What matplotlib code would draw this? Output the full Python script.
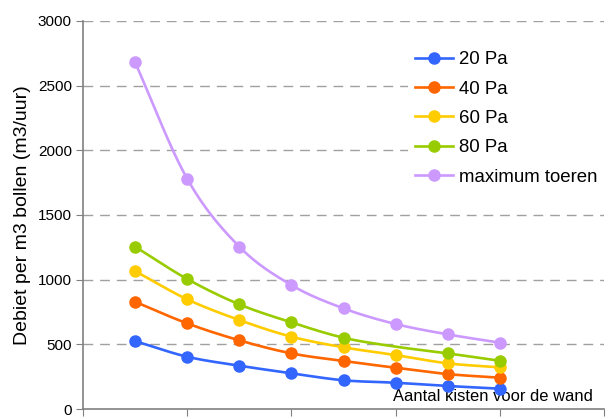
import numpy as np
import matplotlib
matplotlib.use("Agg")
import matplotlib.pyplot as plt

plt.rcParams["font.family"] = ["Liberation Sans", "DejaVu Sans"]

# number of boxes in front of the wall
kisten = [1, 2, 3, 4, 5, 6, 7, 8]

pa20 = [525, 404, 335, 276, 222, 203, 178, 157]
pa40 = [829, 662, 531, 430, 371, 319, 270, 242]
pa60 = [1066, 848, 688, 559, 477, 417, 353, 322]
pa80 = [1255, 1005, 809, 670, 551, 482, 430, 373]
maximum = [2680, 1780, 1255, 958, 778, 657, 577, 513]

labels = ["20 Pa", "40 Pa", "60 Pa", "80 Pa", "maximum toeren"]
colors = ["#3366FF", "#FF6600", "#FFCC00", "#99CC00", "#CC99FF"]


def smooth(x, y, n=20):
    """Catmull-Rom curve through the points, like Excel's smoothed line."""
    x = np.asarray(x, float)
    y = np.asarray(y, float)
    px = np.concatenate([[2 * x[0] - x[1]], x, [2 * x[-1] - x[-2]]])
    py = np.concatenate([[2 * y[0] - y[1]], y, [2 * y[-1] - y[-2]]])
    t = np.linspace(0, 1, n)[:, None]
    xs, ys = [], []
    for i in range(1, len(px) - 2):
        for p, out in ((px, xs), (py, ys)):
            p0, p1, p2, p3 = p[i - 1], p[i], p[i + 1], p[i + 2]
            seg = 0.5 * ((2 * p1) + (-p0 + p2) * t
                         + (2 * p0 - 5 * p1 + 4 * p2 - p3) * t ** 2
                         + (-p0 + 3 * p1 - 3 * p2 + p3) * t ** 3)
            out.append(seg.ravel())
    return np.concatenate(xs), np.concatenate(ys)


fig = plt.figure(figsize=(6.14, 4.19), dpi=100)
ax = fig.add_axes([83 / 614, 1 - 409 / 419, 521 / 614, 388 / 419])

series = [pa20, pa40, pa60, pa80, maximum]
for vals, lab, col in zip(series, labels, colors):
    sx, sy = smooth(kisten, vals)
    ax.plot(sx, sy, color=col, lw=1.9, zorder=3)
    mk = [0, 1, 2, 3, 4, 6, 7] if lab == "80 Pa" else None
    xm = [kisten[i] for i in mk] if mk else kisten
    ym = [vals[i] for i in mk] if mk else vals
    ax.plot(xm, ym, "o", color=col, ms=8, zorder=4)
    ax.plot([], [], "-o", color=col, lw=1.9, ms=8, label=lab)

ax.set_xlim(0, 10)
ax.set_ylim(0, 3000)
ax.set_xticks(range(0, 11, 2))
ax.set_xticklabels([])
ax.set_yticks(range(0, 3001, 500))
ax.tick_params(axis="y", labelsize=11, length=5, color="#808080", pad=3)
ax.tick_params(axis="x", length=5, color="#808080")
for s in ["top", "right"]:
    ax.spines[s].set_visible(False)
for s in ["left", "bottom"]:
    ax.spines[s].set_color("#808080")
    ax.spines[s].set_linewidth(1.2)

for v in range(500, 3001, 500):
    ax.axhline(v, color="#A0A0A0", lw=1, ls=(0, (7, 5)), zorder=1)

ax.set_ylabel("Debiet per m3 bollen (m3/uur)", fontsize=14, labelpad=5)
ax.text(0.595, 0.012, "Aantal kisten voor de wand", transform=ax.transAxes,
        fontsize=11.9, va="bottom", ha="left")

leg = ax.legend(loc="upper left", bbox_to_anchor=(0.605, 0.965), frameon=True,
                fontsize=13.4, handlelength=2.05, handletextpad=0.32,
                labelspacing=0.66)
leg.get_frame().set_facecolor("white")
leg.get_frame().set_edgecolor("none")
leg.get_frame().set_alpha(1)
leg.set_zorder(5)

fig.savefig("out.png", dpi=100)
